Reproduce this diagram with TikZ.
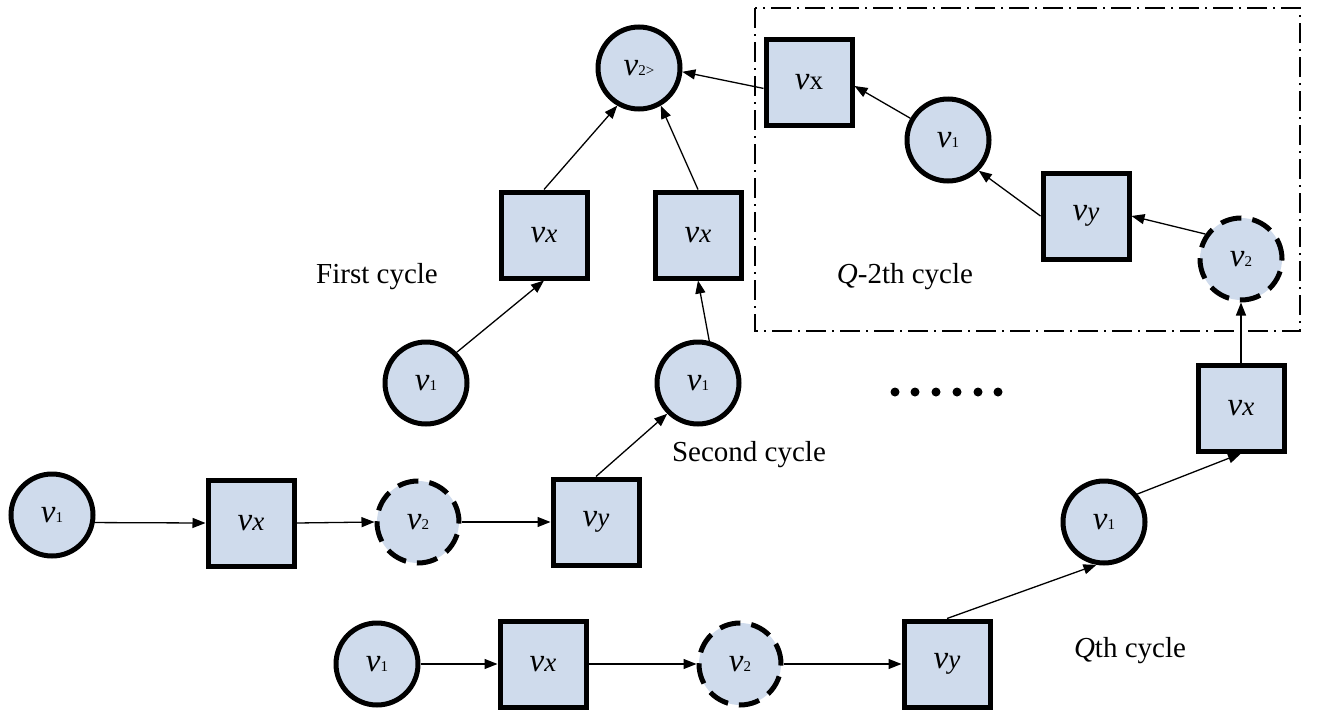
\documentclass[tikz,border=0pt]{standalone}
\usepackage{fontspec}
\setmainfont{Liberation Serif}
\usetikzlibrary{arrows.meta}
\definecolor{nodefill}{RGB}{207,219,236}
\newcommand{\vsub}[1]{{\fontsize{33}{33}\selectfont\itshape v}#1}
\newcommand{\sdig}[1]{{\fontsize{15}{15}\selectfont #1}}
\newcommand{\sitl}[1]{{\fontsize{27}{27}\selectfont\itshape #1}}
\newcommand{\supr}[1]{{\fontsize{27}{27}\selectfont #1}}
\tikzset{
  circ/.style={circle, draw=black, line width=5pt, fill=nodefill, minimum size=82pt, inner sep=0pt},
  dcirc/.style={circ, dash pattern=on 21pt off 11pt},
  sq/.style={rectangle, draw=black, line width=5pt, fill=nodefill, minimum size=86pt, inner sep=0pt},
  conn/.style={line width=1.3pt, -{Triangle[length=13pt,width=10pt]}},
  lbl/.style={font=\fontsize{29}{29}\selectfont, inner sep=0pt},
  dotmark/.style={circle, fill=black, minimum size=9pt, inner sep=0pt}
}
\begin{document}
\begin{tikzpicture}[x=1pt,y=-1pt]
\useasboundingbox (0,0) rectangle (1318,718);
% dash-dot frame
\draw[line width=2.8pt, dash pattern=on 20pt off 6pt on 2pt off 6pt] (755,8) rectangle (1300,331);
% row A
\node[circ]  (a1) at (52,515)  {\vsub{\sdig{1}}};
\node[sq]    (a2) at (251,523) {\vsub{\sitl{x}}};
\node[dcirc] (a3) at (418,522) {\vsub{\sdig{2}}};
\node[sq]    (a4) at (596,522) {\vsub{\sitl{y}}};
% first / second cycle
\node[circ]  (b1) at (426,383) {\vsub{\sdig{1}}};
\node[sq]    (b2) at (544,235) {\vsub{\sitl{x}}};
\node[circ]  (c1) at (698,383) {\vsub{\sdig{1}}};
\node[sq]    (c2) at (698,235) {\vsub{\sitl{x}}};
\node[circ]  (top) at (639,68) {\vsub{\sdig{2>}}};
% Q-2th cycle
\node[sq]    (d1) at (809,82)   {\vsub{\supr{x}}};
\node[circ]  (d2) at (948,140)  {\vsub{\sdig{1}}};
\node[sq]    (d3) at (1086,216) {\vsub{\sitl{y}}};
\node[dcirc] (d4) at (1241,259) {\vsub{\sdig{2}}};
% Qth cycle
\node[circ]  (e1) at (377,664)  {\vsub{\sdig{1}}};
\node[sq]    (e2) at (543,664)  {\vsub{\sitl{x}}};
\node[dcirc] (e3) at (740,664)  {\vsub{\sdig{2}}};
\node[sq]    (e4) at (947,664)  {\vsub{\sitl{y}}};
\node[circ]  (e5) at (1104,522) {\vsub{\sdig{1}}};
\node[sq]    (e6) at (1241,408) {\vsub{\sitl{x}}};
% labels
\node[lbl] (l1) at (377,277) {First cycle};
\node[lbl] (l2) at (749,455) {Second cycle};
\node[lbl] (l3) at (905,277) {\textit{Q}-2th cycle};
\node[lbl] (l4) at (1130,651) {\textit{Q}th cycle};
% dots
\foreach \i/\xx in {1/895,2/915,3/936,4/957,5/978,6/998}
  \node[dotmark] (dot\i) at (\xx,392) {};
% connectors
\draw[conn] (a1.-10) -- (a2.west);
\draw[conn] (a2.east) -- (a3.west);
\draw[conn] (a3.east) -- (a4.west);
\draw[conn] (a4.north) -- (c1.-135);
\draw[conn] (c1.75) -- (c2.south);
\draw[conn] (c2.north) -- (top.-60);
\draw[conn] (b1.45) -- (b2.south);
\draw[conn] (b2.north) -- (top.-120);
\draw[conn] (d1.-172) -- (top.-5);
\draw[conn] (d2.150) -- (d1.-5);
\draw[conn] (d3.west) -- (d2.-45);
\draw[conn] (d4.145) -- (d3.east);
\draw[conn] (e6.north) -- (d4.south);
\draw[conn] (e5.40) -- (e6.south);
\draw[conn] (e4.north) -- (e5.-100);
\draw[conn] (e3.east) -- (e4.west);
\draw[conn] (e2.east) -- (e3.west);
\draw[conn] (e1.east) -- (e2.west);
\end{tikzpicture}
\end{document}
